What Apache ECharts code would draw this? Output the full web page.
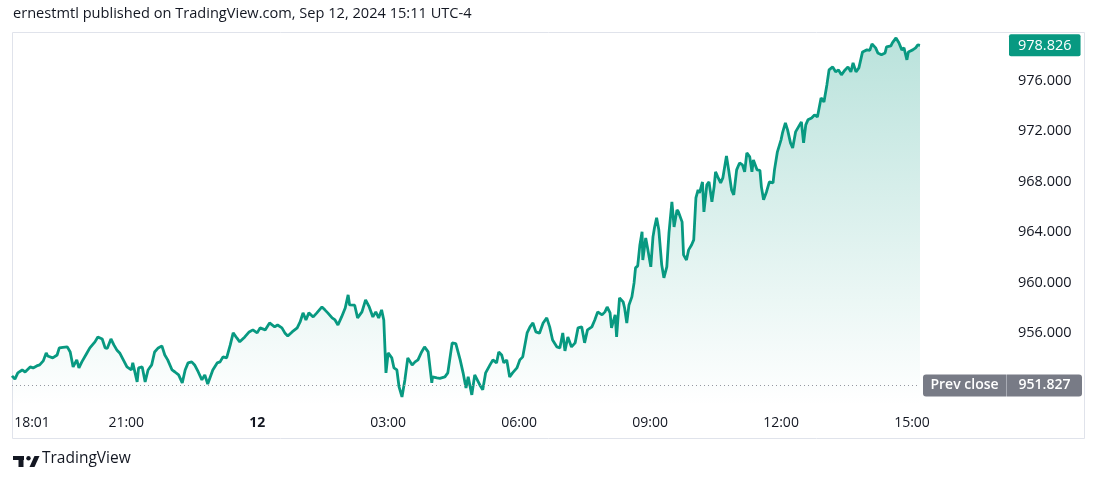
<!DOCTYPE html>
<html>
<head>
<meta charset="utf-8">
<script src="https://cdn.jsdelivr.net/npm/echarts@6/dist/echarts.min.js"></script>
<style>
  html, body { margin: 0; padding: 0; background: #ffffff; }
  #chart { width: 1100px; height: 483px; }
</style>
</head>
<body>
<div id="chart"></div>
<script>
// ---- data (bar number = 1-minute bar index from session start 18:01) ----
const bars = [
  0,4,8,14,18,25,29,34,38,43,47,49,56,62,65,70,76,80,84,89,92,96,103,107,114,118,124,128,131,136,140,144,148,153,158,164,166,172,174,179,183,187,192,196,201,206,210,214,220,224,229,234,238,242,247,251,256,261,265,269,276,282,286,290,295,300,304,309,313,320,326,
  331,337,341,348,354,361,365,371,375,379,385,392,396,400,404,408,414,419,426,430,434,440,444,448,453,458,462,464,471,475,481,486,491,496,500,504,508,511,514,517,522,525,529,532,536,540,544,550,554,558,563,567,572,577,578,584,588,595,599,605,610,616,620,624,627,632,636,643,
  647,651,657,661,666,669,673,676,680,684,688,694,698,702,708,712,716,720,725,730,735,739,743,749,753,757,760,764,769,774,778,783,787,791,797,801,805,811,815,818,822,824,829,831,835,840,842,845,848,852,855,857,860,863,866,867,871,874,878,881,883,886,889,893,896,900,903,907,910,914,916,921,923,927,930,934,937,940,943,
  945,949,951,955,958,962,965,967,970,974,977,982,985,989,992,996,1000,1004,1007,1010,1014,1017,1019,1024,1028,1030,1033,1037,1041,1046,1048,1052,1057,1059,1063,1066,1070,1073,1077,1081,1085,1088,1091,1094,1099,1103,1107,1112,1116,1120,1123,1128,1132,1136,1140,1145,1149,1153,1156,1160,1164,1169,1175,1179,1182,1187,1190,1195,1200,1202,1208,1210,1215,1219,1223,1226,1230,1232,1238,1242,1245,1248
];
const prices = [
  952.59,952.33,952.83,953.06,952.90,953.30,953.22,953.38,953.46,953.78,954.41,954.17,954.02,954.25,954.81,954.85,954.89,954.49,953.30,953.86,953.22,953.70,954.41,954.81,955.29,955.68,955.52,954.81,954.78,955.52,955.05,954.65,954.41,953.86,953.30,953.06,953.62,952.11,953.22,953.30,952.11,953.06,953.46,954.49,954.81,954.97,954.25,953.86,953.06,952.90,952.67,952.03,953.06,953.62,953.70,953.46,952.90,952.27,952.67,951.95,953.06,953.62,953.70,954.10,954.02,955.05,956.00,955.60,955.29,955.68,956.08,
  956.24,956.00,956.40,956.24,956.79,956.48,956.63,956.40,956.00,955.76,956.08,956.40,956.87,957.59,957.03,957.59,957.27,957.59,958.06,957.83,957.59,957.19,957.03,956.63,957.27,957.98,959.02,958.22,958.20,957.19,957.67,958.62,958.06,957.27,957.67,957.19,957.83,957.03,952.83,954.41,954.02,953.22,953.06,951.71,950.92,952.27,954.02,953.46,953.70,953.86,954.49,954.89,954.49,952.03,952.51,952.43,952.40,952.51,952.83,955.21,955.15,953.86,952.83,951.63,952.51,951.08,952.67,951.87,
  951.48,952.83,953.46,953.86,953.62,954.49,954.25,953.62,953.86,952.51,952.83,953.22,953.86,954.10,956.00,956.48,956.79,956.08,955.98,956.79,957.19,956.48,955.44,954.89,954.81,956.00,954.57,955.68,954.89,955.21,956.40,956.48,955.21,956.24,956.48,957.03,957.67,957.43,957.67,958.06,957.59,956.40,957.43,955.68,958.78,958.46,957.98,956.79,958.22,958.86,959.97,961.16,961.32,962.98,964.02,961.79,963.54,962.59,961.24,963.62,964.33,965.13,964.18,961.40,960.37,961.24,963.94,966.40,964.41,965.76,965.60,964.81,962.19,961.79,962.59,962.98,963.38,966.71,967.35,
  967.11,967.98,965.60,967.75,967.98,966.40,967.59,968.78,968.38,967.91,968.30,970.05,968.94,967.35,966.95,968.94,969.49,969.33,968.78,970.29,969.97,968.78,969.73,968.94,968.90,967.59,966.56,967.19,967.98,967.91,968.94,970.37,971.32,971.87,972.67,972.11,971.08,970.68,971.95,972.35,972.75,971.08,972.51,972.91,973.06,973.30,973.14,974.65,974.33,975.68,976.87,977.11,976.72,976.87,976.48,976.87,977.11,976.72,977.43,976.72,977.03,978.30,978.46,978.42,978.94,978.62,978.22,978.07,978.22,978.70,978.78,979.02,979.41,979.02,978.46,978.62,977.67,978.30,978.46,978.62,978.86,978.826
];
const tickBars = [0, 157, 337, 517, 697, 877, 1057, 1237];
const tickLabels = ['18:01', '21:00', '12', '03:00', '06:00', '09:00', '12:00', '15:00'];
const priceTicks = [956, 960, 964, 968, 972, 976];
const lastPrice = 978.826;
const prevClose = 951.827;
const headerText = 'ernestmtl published on TradingView.com, Sep 12, 2024 15:11 UTC-4';
const brandText = 'TradingView';

// ---- chart ----
const FONT = '"Open Sans", "Noto Sans", sans-serif';
const TXT = '#131722';
const GREEN = '#089981';
const GREY = '#787b86';

const seriesData = bars.map((b, i) => [b, prices[i]]);
const chart = echarts.init(document.getElementById('chart'), null, { renderer: 'canvas' });

chart.setOption({
  animation: false,
  backgroundColor: '#ffffff',
  textStyle: { fontFamily: FONT },
  grid: { left: 12, right: 180, top: 33, bottom: 77, containLabel: false },
  xAxis: {
    type: 'value',
    min: 0,
    max: bars[bars.length - 1],
    axisLine: { show: false },
    axisTick: { show: false },
    splitLine: { show: false },
    axisLabel: {
      customValues: tickBars,
      margin: 10,
      color: TXT,
      fontSize: 14,
      fontFamily: FONT,
      formatter: function (v) {
        const i = tickBars.indexOf(v);
        if (i < 0) return '';
        const t = tickLabels[i];
        if (i === 0) return '{first|' + t + '}';
        if (t === '12') return '{bold|' + t + '}';
        return t;
      },
      rich: {
        first: { padding: [0, 0, 0, 40], fontSize: 14, fontFamily: FONT, color: TXT },
        bold: { fontWeight: 'bold', fontSize: 14, fontFamily: FONT, color: TXT }
      }
    }
  },
  yAxis: {
    type: 'value',
    position: 'right',
    min: 950.2,
    max: 979.8,
    axisLine: { show: false },
    axisTick: { show: false },
    splitLine: { show: false },
    axisLabel: {
      customValues: priceTicks.concat([lastPrice]),
      margin: 89,
      color: TXT,
      fontSize: 14,
      fontFamily: FONT,
      formatter: function (v) {
        if (Math.abs(v - lastPrice) < 1e-6) return '{last|' + lastPrice.toFixed(3) + '}';
        return '{n|' + v.toFixed(3) + '}';
      },
      rich: {
        n: { padding: [0, 9, 0, 9], fontSize: 14.5, fontFamily: FONT, color: TXT },
        last: { padding: [4, 9, 3, 9], fontSize: 14.5, fontFamily: FONT, color: '#ffffff',
                backgroundColor: GREEN, borderRadius: 2 }
      }
    }
  },
  series: [{
    type: 'line',
    data: seriesData,
    symbol: 'none',
    smooth: false,
    lineStyle: { color: GREEN, width: 2.8 },
    areaStyle: {
      origin: 'start',
      color: new echarts.graphic.LinearGradient(0, 0, 0, 1, [
        { offset: 0, color: 'rgba(8,153,129,0.40)' },
        { offset: 1, color: 'rgba(8,153,129,0.0)' }
      ])
    },
    markLine: {
      silent: true,
      symbol: ['none', 'none'],
      lineStyle: { color: '#9598a1', width: 1, type: [1, 3] },
      label: {
        show: true,
        position: 'end',
        distance: 3,
        formatter: '{a|Prev close}{s| }{b|' + prevClose.toFixed(3) + '}',
        rich: {
          a: { color: '#ffffff', backgroundColor: GREY, fontSize: 14, fontFamily: FONT, fontWeight: 600,
               width: 67, align: 'center', padding: [4, 8, 4, 8], lineHeight: 14, borderRadius: [3, 0, 0, 3] },
          s: { width: 1, height: 22, backgroundColor: '#a9acb5', fontSize: 1, lineHeight: 22 },
          b: { color: '#ffffff', backgroundColor: GREY, fontSize: 14, fontFamily: FONT, fontWeight: 600,
               width: 57, align: 'center', padding: [4, 9, 4, 9], lineHeight: 14, borderRadius: [0, 3, 3, 0] }
        }
      },
      data: [{ yAxis: prevClose }]
    }
  }],
  graphic: [
    { type: 'rect', silent: true, z: -1,
      shape: { x: 12.5, y: 32.5, width: 1072, height: 406 },
      style: { fill: 'none', stroke: '#e0e3eb', lineWidth: 1 } },
    { type: 'text', left: 13, top: 6,
      style: { text: headerText, fill: TXT, font: '14.6px ' + FONT } },
    // TradingView logo
    { type: 'rect', shape: { x: 13, y: 456, width: 11, height: 4 }, style: { fill: TXT } },
    { type: 'rect', shape: { x: 18.5, y: 456, width: 5, height: 11 }, style: { fill: TXT } },
    { type: 'circle', shape: { cx: 28.5, cy: 458.2, r: 2.2 }, style: { fill: TXT } },
    { type: 'polygon', shape: { points: [[29.5, 467], [34.5, 456], [39.5, 456], [34.5, 467]] }, style: { fill: TXT } },
    { type: 'text', left: 42, top: 451,
      style: { text: brandText, fill: TXT, font: '15.5px ' + FONT } }
  ]
});
</script>
</body>
</html>
